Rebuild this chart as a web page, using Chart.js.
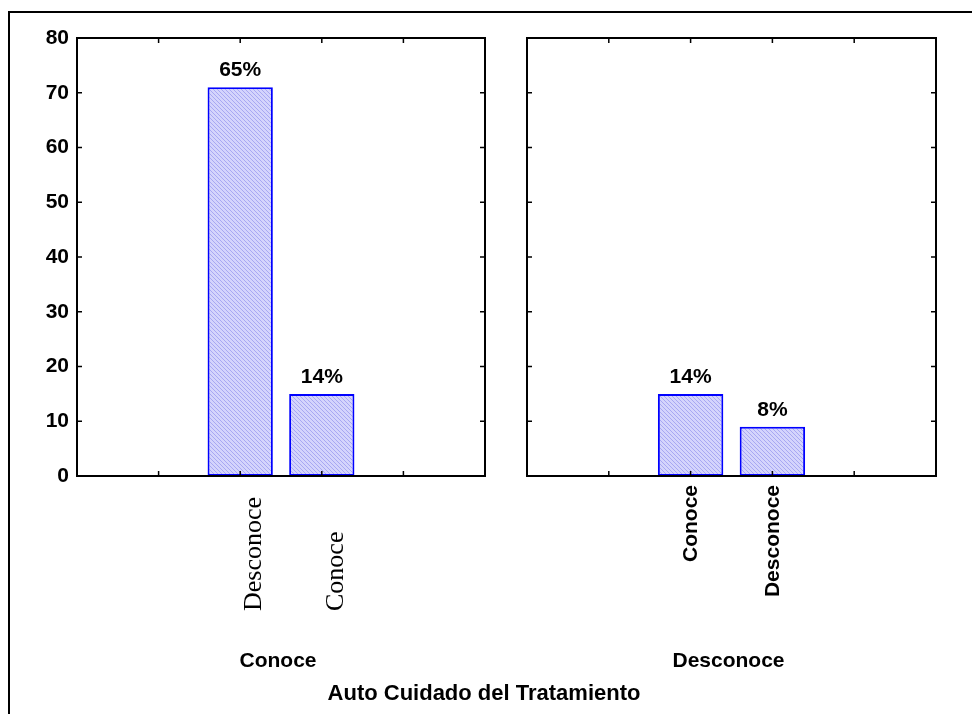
<!DOCTYPE html>
<html>
<head>
<meta charset="utf-8">
<script src="https://cdn.jsdelivr.net/npm/chart.js@4.4.0/dist/chart.umd.min.js"></script>
<style>
  body { margin: 0; background: #fff; width: 972px; height: 714px; overflow: hidden; position: relative; }
  #marco { position: absolute; left: 8px; top: 11px; width: 980px; height: 720px; border-top: 2px solid #000; border-left: 2px solid #000; }
  canvas { position: absolute; left: 0; top: 0; }
</style>
</head>
<body>
<div id="marco"></div>
<canvas id="panel-conoce" width="972" height="714"></canvas>
<canvas id="panel-desconoce" width="972" height="714"></canvas>
<script>
// Datos
const grupos = ['Conoce', 'Desconoce'];
const categoriasConoce = ['Desconoce', 'Conoce'];
const valoresConoce = [71, 15];
const porcentajesConoce = ['65%', '14%'];
const categoriasDesconoce = ['Conoce', 'Desconoce'];
const valoresDesconoce = [15, 9];
const porcentajesDesconoce = ['14%', '8%'];
const ejeYMin = 0;
const ejeYMax = 80;
const ejeYPaso = 10;
const tituloEjeX = 'Auto Cuidado del Tratamiento';

const SANS = '"Liberation Sans", Arial, sans-serif';
const SERIF = '"Liberation Serif", "Times New Roman", serif';

function crearTrama(ctx) {
  const c = document.createElement('canvas');
  c.width = 4; c.height = 4;
  const g = c.getContext('2d');
  g.fillStyle = '#d4d4fc';
  g.fillRect(0, 0, 4, 4);
  g.fillStyle = '#a8a8f2';
  for (let i = 0; i < 4; i++) g.fillRect(i, i, 1, 1);
  return ctx.createPattern(c, 'repeat');
}

// dibuja marco, marcas hacia dentro, etiquetas y porcentajes
const panelPlugin = {
  id: 'panel',
  afterDraw(chart, args, opts) {
    const ctx = chart.ctx;
    const { left, right, top, bottom } = chart.chartArea;
    const x = chart.scales.x;
    const y = chart.scales.y;
    const meta = chart.getDatasetMeta(0);
    ctx.save();
    ctx.strokeStyle = '#000';
    ctx.lineWidth = 2;
    ctx.strokeRect(left, top, right - left, bottom - top);

    ctx.lineWidth = 1.5;
    ctx.beginPath();
    y.ticks.forEach(t => {
      if (t.value === ejeYMin || t.value === ejeYMax) return;
      const py = y.getPixelForValue(t.value);
      ctx.moveTo(left, py); ctx.lineTo(left + 5, py);
      ctx.moveTo(right, py); ctx.lineTo(right - 5, py);
    });
    x.ticks.forEach((t, i) => {
      if (i === 0 || i === x.ticks.length - 1) return;
      const px = x.getPixelForTick(i);
      ctx.moveTo(px, bottom); ctx.lineTo(px, bottom - 5);
      ctx.moveTo(px, top); ctx.lineTo(px, top + 5);
    });
    ctx.stroke();

    ctx.fillStyle = '#000';
    opts.categorias.forEach((cat, i) => {
      const idx = i + 2;
      const px = x.getPixelForValue(idx);
      const barra = meta.data[idx];
      ctx.font = 'bold 21px ' + SANS;
      ctx.textAlign = 'center';
      ctx.textBaseline = 'alphabetic';
      ctx.fillText(opts.porcentajes[i], barra.x, barra.y - 11);

      ctx.save();
      ctx.translate(px + opts.desplazX, opts.anclaY);
      ctx.rotate(-Math.PI / 2);
      ctx.font = opts.fuente;
      ctx.textAlign = opts.alinear;
      ctx.textBaseline = opts.base;
      ctx.fillText(cat, 0, 0);
      ctx.restore();
    });

    ctx.font = 'bold 21px ' + SANS;
    ctx.textAlign = 'center';
    ctx.textBaseline = 'alphabetic';
    ctx.fillText(opts.grupo, (left + right) / 2 - 3, 667);
    if (opts.titulo) {
      ctx.font = 'bold 22px ' + SANS;
      ctx.fillText(opts.titulo, 484, 700);
    }
    ctx.restore();
  }
};

function crearPanel(idCanvas, categorias, valores, porcentajes, grupo, izq, der, conEjeY, estilo, titulo) {
  const canvas = document.getElementById(idCanvas);
  const ctx = canvas.getContext('2d');
  const etiquetas = ['', '', ...categorias, '', ''];
  const datos = [null, null, ...valores, null, null];

  return new Chart(ctx, {
    type: 'bar',
    data: {
      labels: etiquetas,
      datasets: [{
        data: datos,
        backgroundColor: crearTrama(ctx),
        borderColor: '#0000ff',
        borderWidth: 2,
        borderSkipped: false,
        categoryPercentage: 1,
        barPercentage: 0.8
      }]
    },
    options: {
      responsive: false,
      animation: false,
      layout: {
        padding: { left: conEjeY ? 0 : izq, top: 38, right: 972 - der, bottom: 714 - 476 }
      },
      plugins: {
        legend: { display: false },
        tooltip: { enabled: false },
        panel: Object.assign({ categorias, porcentajes, grupo, titulo }, estilo)
      },
      scales: {
        x: { type: 'category', offset: false, display: false },
        y: {
          min: ejeYMin,
          max: ejeYMax,
          display: conEjeY,
          grid: { display: false },
          border: { display: false },
          ticks: {
            stepSize: ejeYPaso,
            color: '#000',
            padding: 0,
            font: { family: SANS, size: 21, weight: 'bold' }
          },
          afterFit: s => { s.width = conEjeY ? izq : 0; }
        }
      }
    },
    plugins: [panelPlugin]
  });
}

crearPanel('panel-conoce', categoriasConoce, valoresConoce, porcentajesConoce, grupos[0], 77, 485, true,
  { fuente: '26px ' + SERIF, alinear: 'left', base: 'top', anclaY: 611, desplazX: 1 }, tituloEjeX);
crearPanel('panel-desconoce', categoriasDesconoce, valoresDesconoce, porcentajesDesconoce, grupos[1], 527, 936, false,
  { fuente: 'bold 21px ' + SANS, alinear: 'right', base: 'middle', anclaY: 485, desplazX: 1 }, null);
</script>
</body>
</html>
